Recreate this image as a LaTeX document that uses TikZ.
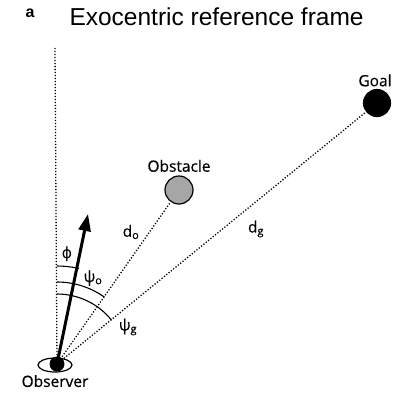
\documentclass[tikz,border=0pt]{standalone}
\usepackage{fontspec}
\setmainfont{Open Sans}[FakeBold=0.5]
\newfontfamily\titlefont{Liberation Sans}
\newfontfamily\greekfont{DejaVu Sans}
\usetikzlibrary{positioning, arrows.meta, shapes.geometric}

\begin{document}
\begin{tikzpicture}[
    x=1pt, y=1pt,
    font=\fontsize{15.5}{18}\selectfont,
    ray/.style={line width=1.3pt, dash pattern=on 1.2pt off 1.8pt},
    anglearc/.style={line width=1.1pt},
    heading/.style={-{Triangle[length=17pt, width=12pt]}, line width=3pt},
    target/.style={circle, draw=black, line width=1.2pt, minimum size=28pt, inner sep=0pt}
]
\useasboundingbox (0,0) rectangle (396,-399);

% title
\node[font=\titlefont\bfseries\fontsize{16}{18}\selectfont] (panel) at (30,-13) {a};
\node[anchor=west, font=\titlefont\fontsize{24.5}{27}\selectfont] (title) at (66,-17) {Exocentric reference frame};

% observer
\node[ellipse, draw, line width=1.2pt, minimum width=34pt, minimum height=14pt, inner sep=0pt] (ring) at (55,-365) {};
\node[circle, fill=black, minimum size=15pt, inner sep=0pt] (obs) at (57,-364) {};
\node[below=-1pt of ring] (obslabel) {Observer};

% obstacle and goal
\node[target, fill=black!35] (obst) at (179,-190) {};
\node[above=0pt of obst] (obstlabel) {Obstacle};
\node[target, fill=black, minimum size=27pt] (goal) at (377,-103) {};
\node[above=-1pt of goal, xshift=-2pt] (goallabel) {Goal};

% reference direction and rays
\coordinate (north) at (55,-48);
\coordinate (tip) at (88,-214);
\draw[ray] (obs.center) -- (north);
\draw[ray] (obs.center) -- (obst);
\draw[ray] (obs.center) -- (goal);
\node (do) at (131,-232) {d\textsubscript{o}};
\node (dg) at (256,-229) {d\textsubscript{g}};

% heading
\draw[heading] (obs.center) -- (tip);

% angles
\draw[anglearc] ([shift={(90:98)}]obs.center) arc[start angle=90, end angle=77, radius=98];
\draw[anglearc] ([shift={(90:82)}]obs.center) arc[start angle=90, end angle=54.7, radius=82];
\draw[anglearc] ([shift={(90:70)}]obs.center) arc[start angle=90, end angle=39, radius=70];
\node (phi) at (67,-254) {\greekfont ϕ};
\node (psio) at (93,-278) {ψ\textsubscript{o}};
\node (psig) at (128,-327) {ψ\textsubscript{g}};

\end{tikzpicture}
\end{document}
